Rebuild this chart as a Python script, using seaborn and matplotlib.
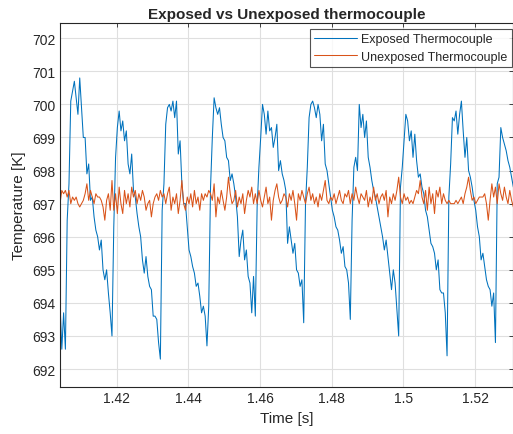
import numpy as np
import pandas as pd
import seaborn as sns
import matplotlib.pyplot as plt

t_start = 1.4042
dt = 0.0005

exposed = [
    694.0, 692.6, 693.7, 692.6, 696.5, 697.6, 700.1, 700.4, 700.7, 700.2,
    699.7, 700.8, 699.9, 699.0, 699.0, 697.9, 698.2, 697.1, 697.2, 696.6,
    696.2, 696.0, 695.6, 695.9, 695.0, 694.7, 695.0, 694.3, 693.7, 693.0,
    696.3, 698.4, 699.3, 699.8, 699.2, 699.5, 698.9, 699.2, 698.2, 697.9,
    698.5, 697.4, 697.2, 696.7, 696.3, 696.0, 695.3, 694.9, 695.4, 694.8,
    694.5, 694.4, 693.6, 693.6, 693.5, 692.8, 692.3, 696.8, 697.6, 699.4,
    699.9, 700.0, 699.8, 700.1, 699.6, 700.1, 698.5, 698.9, 697.6, 697.0,
    697.0, 696.3, 695.6, 695.4, 695.1, 694.9, 694.5, 694.6, 694.2, 693.7,
    693.9, 693.6, 692.7, 693.9, 697.5, 699.0, 700.2, 699.9, 699.7, 699.9,
    699.4, 699.0, 698.9, 698.4, 698.3, 697.7, 697.9, 697.6, 697.2, 696.6,
    695.4, 695.9, 696.2, 695.3, 695.6, 694.8, 694.6, 693.7, 694.8, 693.6,
    696.9, 698.1, 699.0, 700.0, 699.7, 699.1, 699.8, 699.2, 699.3, 698.7,
    699.0, 699.4, 698.0, 698.3, 697.9, 697.7, 697.4, 695.8, 696.3, 695.9,
    695.5, 695.8, 695.0, 694.9, 694.5, 694.7, 693.4, 697.0, 698.1, 699.6,
    700.0, 700.1, 699.9, 699.6, 700.0, 699.7, 698.9, 699.4, 698.2, 698.0,
    697.6, 697.2, 696.8, 696.6, 696.3, 696.2, 695.9, 695.5, 695.7, 695.1,
    695.0, 694.6, 693.5, 696.5, 698.1, 698.4, 698.0, 700.0, 699.3, 699.7,
    699.0, 699.5, 698.4, 698.1, 697.7, 697.4, 697.2, 696.9, 696.6, 696.3,
    696.0, 695.6, 695.9, 695.4, 694.9, 694.4, 695.0, 694.6, 693.8, 693.0,
    697.5, 698.1, 698.9, 699.7, 699.5, 698.9, 699.2, 698.4, 699.1, 698.3,
    697.8, 697.9, 697.5, 697.3, 696.8, 696.6, 696.2, 695.8, 695.7, 695.5,
    695.0, 695.3, 694.4, 694.3, 694.3, 693.7, 692.4, 697.2, 698.2, 699.6,
    699.5, 699.8, 699.1, 699.7, 700.1, 699.2, 698.4, 699.0, 698.0, 697.8,
    697.5, 697.1, 696.8, 696.3, 696.0, 695.3, 695.5, 695.1, 694.7, 694.5,
    694.4, 693.9, 694.3, 692.8, 697.6, 697.8, 699.3, 699.0, 698.8, 698.6,
    698.3, 698.1, 697.8, 697.5,
]

unexposed = [
    697.0, 697.4, 697.3, 697.4, 697.2, 697.4, 697.0, 697.2, 697.1, 697.2,
    697.0, 696.9, 697.0, 697.1, 697.3, 697.6, 697.1, 697.4, 697.2, 697.0,
    697.3, 697.2, 697.2, 697.1, 696.9, 696.5, 697.1, 697.3, 696.8, 697.7,
    696.8, 697.3, 696.7, 697.5, 697.0, 696.7, 697.4, 697.0, 697.3, 696.9,
    697.5, 697.2, 697.4, 697.0, 697.3, 697.1, 697.4, 697.2, 696.8, 697.0,
    697.1, 696.6, 697.0, 697.2, 697.3, 697.1, 697.4, 697.2, 697.3, 697.0,
    697.3, 697.5, 696.8, 697.2, 697.0, 697.3, 696.7, 697.1, 697.7, 697.0,
    696.8, 697.2, 697.0, 697.3, 696.9, 697.4, 697.0, 697.2, 696.8, 697.3,
    697.1, 697.3, 697.2, 697.4, 697.3, 697.1, 697.6, 696.6, 697.2, 697.0,
    697.4, 697.1, 696.8, 697.2, 697.8, 697.3, 697.0, 697.1, 697.4, 696.9,
    697.2, 697.0, 697.3, 696.7, 697.1, 697.4, 697.2, 697.5, 697.0, 697.3,
    697.0, 697.4, 697.1, 696.9, 697.2, 697.5, 697.0, 697.2, 696.5, 697.1,
    697.4, 697.6, 697.2, 697.0, 697.1, 697.3, 697.2, 696.9, 697.3, 697.1,
    697.4, 697.0, 696.5, 697.3, 697.1, 697.4, 697.2, 697.0, 697.3, 697.5,
    697.1, 697.3, 697.0, 697.2, 696.9, 697.3, 697.1, 697.4, 697.7, 697.1,
    697.0, 697.2, 697.1, 697.3, 697.0, 697.2, 697.4, 697.1, 697.0, 697.3,
    697.2, 697.4, 697.0, 697.3, 697.1, 697.5, 697.2, 697.0, 697.3, 697.2,
    697.1, 697.4, 696.9, 697.2, 697.0, 697.5, 697.1, 697.3, 697.0, 697.2,
    697.3, 697.1, 697.4, 696.6, 697.2, 697.0, 697.3, 697.1, 697.4, 697.8,
    697.2, 697.0, 697.3, 697.1, 697.2, 697.0, 697.1, 697.0, 697.2, 697.4,
    697.3, 697.7, 697.2, 697.0, 697.4, 696.8, 697.5, 697.0, 697.3, 696.7,
    697.4, 697.2, 697.5, 697.0, 697.3, 697.1, 697.0, 697.1, 697.0, 697.0,
    697.0, 697.1, 697.0, 697.1, 697.2, 697.0, 697.3, 697.5, 697.8, 697.4,
    697.1, 697.2, 697.0, 697.1, 697.2, 697.2, 697.2, 697.3, 697.0, 696.5,
    697.1, 697.6, 697.2, 697.5, 697.0, 697.6, 697.3, 697.1, 697.5, 697.2,
    697.0, 697.4, 697.1, 696.9,
]

time = t_start + dt * np.arange(len(exposed))

df = pd.DataFrame({"Time": time,
                   "Exposed Thermocouple": exposed,
                   "Unexposed Thermocouple": unexposed})
df = df.melt(id_vars="Time", var_name="Sensor", value_name="Temperature")

## Plot
sns.set_style("white")
plt.rcParams["font.family"] = ["Liberation Sans", "DejaVu Sans"]

fig = plt.figure(figsize=(5.13, 4.35), dpi=100)
ax = fig.add_axes([0.117, 0.109, 0.883, 0.835])

sns.lineplot(data=df, x="Time", y="Temperature", hue="Sensor",
             palette=["#0072BD", "#D95319"], linewidth=0.75, ax=ax)

ax.set_xlim(1.4042, 1.5306)
ax.set_ylim(691.47, 702.45)
ax.set_xticks([1.42, 1.44, 1.46, 1.48, 1.5, 1.52])
ax.set_xticklabels(["1.42", "1.44", "1.46", "1.48", "1.5", "1.52"])
ax.set_yticks(np.arange(692, 703, 1))
ax.grid(True, color="#dfdfdf", linewidth=0.8)
ax.set_axisbelow(True)
ax.tick_params(direction="in", top=True, right=True, length=3,
               labelsize=10, colors="#262626", width=0.6)
for s in ax.spines.values():
    s.set_color("#262626")
    s.set_linewidth(0.8)

ax.set_title("Exposed vs Unexposed thermocouple", fontsize=11,
             fontweight="bold", pad=4)
ax.set_xlabel("Time [s]", fontsize=11, color="#262626")
ax.set_ylabel("Temperature [K]", fontsize=11, color="#262626")

leg = ax.legend(loc="upper left", bbox_to_anchor=(0.552, 0.985),
                fontsize=9, frameon=True, fancybox=False,
                edgecolor="#262626", handlelength=3.4, handletextpad=0.35,
                labelspacing=0.45, borderpad=0.35, borderaxespad=0)
leg.get_frame().set_linewidth(0.8)

fig.savefig("out.png", dpi=100)
